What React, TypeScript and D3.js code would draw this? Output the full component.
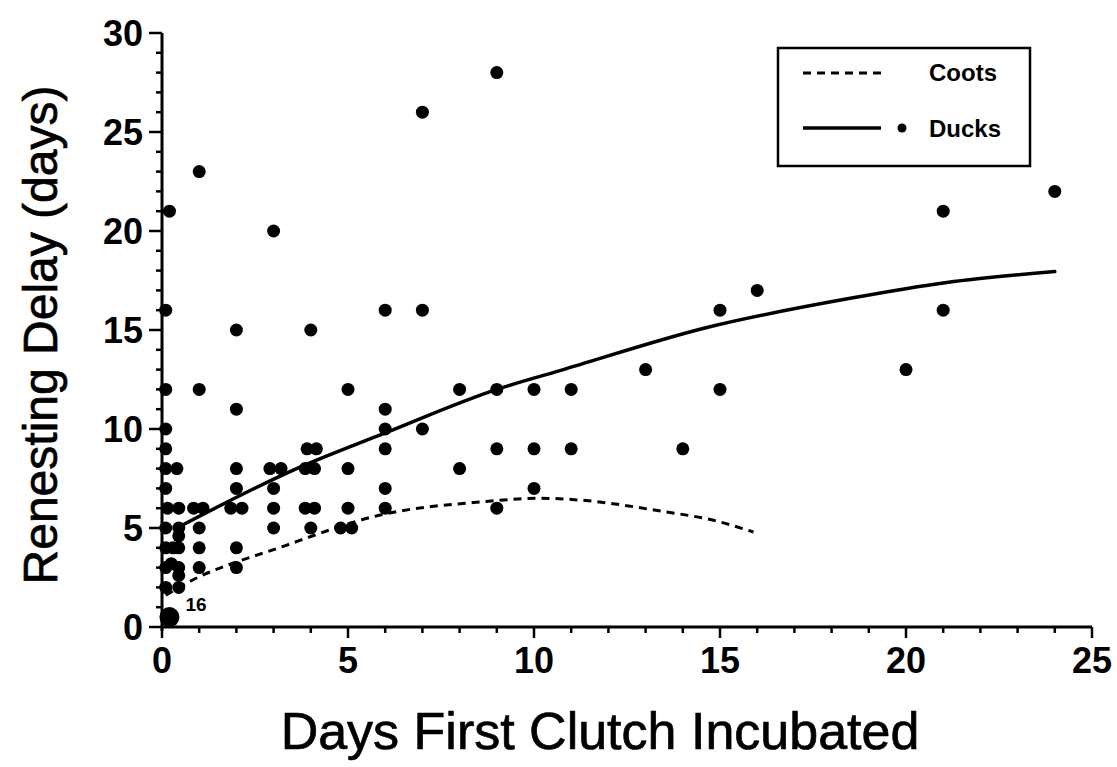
import React from "react";
import * as d3 from "d3";

// ---- Data ----
const xTicks = [0, 5, 10, 15, 20, 25];
const yTicks = [0, 5, 10, 15, 20, 25, 30];

// Duck observations: [days first clutch incubated, renesting delay]
const duckPoints: [number, number][] = [
  [24, 22], [21, 21], [21, 16], [20, 13], [16, 17], [15, 16], [15, 12], [13, 13], [14, 9],
  [11, 12], [11, 9], [10, 12], [10, 9], [10, 7], [9, 12], [9, 9], [9, 6], [9, 28],
  [8, 12], [8, 8], [7, 26], [7, 16], [7, 10],
  [6, 16], [6, 11], [6, 10], [6, 9], [6, 7], [6, 6],
  [5, 12], [5, 8], [5, 6], [4.8, 5], [5.1, 5],
  [4, 15], [3.9, 9], [4.15, 9], [3.85, 8], [4.1, 8], [3.85, 6], [4.1, 6], [4, 5],
  [3, 20], [2.9, 8], [3.2, 8], [3, 7], [3, 6], [3, 5],
  [2, 15], [2, 11], [2, 8], [2, 7], [1.85, 6], [2.15, 6], [2, 4], [2, 3],
  [1, 23], [1, 12], [1.1, 6], [0.85, 6], [1, 5], [1, 4], [1, 3],
  [0.2, 21], [0.1, 16], [0.1, 12], [0.1, 10], [0.1, 9], [0.1, 8], [0.4, 8], [0.1, 7],
  [0.15, 6], [0.45, 6], [0.1, 5], [0.45, 5], [0.45, 4.6], [0.1, 4], [0.3, 4], [0.45, 4],
  [0.1, 3], [0.25, 3.2], [0.45, 3], [0.45, 2.6], [0.1, 2], [0.45, 2],
];

// Stacked point at origin (16 observations)
const stackedPoint: [number, number] = [0.2, 0.5];
const stackedCount = "16";

// Fitted curves
const ducksCurveX = [0.5, 3.5, 6, 9, 10.7, 14.7, 18.5, 21.1, 24];
const ducksCurveY = [5.1, 7.9, 9.8, 12.0, 12.95, 15.15, 16.6, 17.4, 17.95];
const cootsCurveX = [0.1, 0.5, 3.3, 5.9, 8.6, 10.2, 11.3, 13.45, 14.8, 15.9];
const cootsCurveY = [1.6, 2.05, 4.1, 5.67, 6.32, 6.5, 6.4, 5.84, 5.4, 4.8];

const legendLabels = ["Coots", "Ducks"];
const xTitle = "Days First Clutch Incubated";
const yTitle = "Renesting Delay (days)";

// ---- Layout ----
const W = 1117;
const H = 767;
const X0 = 162;
const X1 = 1092;
const Y0 = 627;
const Y1 = 33;
const FONT = "'Liberation Sans', Arial, Helvetica, sans-serif";

export default function App() {
  const x = d3.scaleLinear().domain([0, 25]).range([X0, X1]);
  const y = d3.scaleLinear().domain([0, 30]).range([Y0, Y1]);

  const line = d3
    .line<[number, number]>()
    .x((d) => x(d[0]))
    .y((d) => y(d[1]))
    .curve(d3.curveMonotoneX);

  const ducksPath = line(ducksCurveX.map((v, i) => [v, ducksCurveY[i]]) as [number, number][]) || "";
  const cootsPath = line(cootsCurveX.map((v, i) => [v, cootsCurveY[i]]) as [number, number][]) || "";

  const xMinor = d3.range(0, 26, 1);
  const yMinor = d3.range(0, 31, 1);

  return (
    <svg width={W} height={H} style={{ position: "absolute", left: 0, top: 0, background: "#fff" }}>
      <rect x={0} y={0} width={W} height={H} fill="#fff" />

      {/* Axes */}
      <line x1={x(0)} x2={x(25)} y1={Y0} y2={Y0} stroke="#000" strokeWidth={3} />
      <line x1={X0} x2={X0} y1={y(0) + 4} y2={y(30)} stroke="#000" strokeWidth={3} />

      {xMinor.map((t) => (
        <line key={"xm" + t} x1={x(t)} x2={x(t)} y1={Y0} y2={Y0 + (t % 5 === 0 ? 11 : 6)} stroke="#000" strokeWidth={2.5} />
      ))}
      {yMinor.map((t) => (
        <line key={"ym" + t} x1={X0 - (t % 5 === 0 ? 13 : 6)} x2={X0} y1={y(t)} y2={y(t)} stroke="#000" strokeWidth={2.5} />
      ))}

      {xTicks.map((t) => (
        <text key={"xl" + t} x={x(t)} y={Y0 + 46} textAnchor="middle" fontFamily={FONT} fontWeight="bold" fontSize={36}>
          {t}
        </text>
      ))}
      {yTicks.map((t) => (
        <text key={"yl" + t} x={X0 - 19} y={y(t)} dy="0.35em" textAnchor="end" fontFamily={FONT} fontWeight="bold" fontSize={36}>
          {t}
        </text>
      ))}

      {/* Titles */}
      <text x={600} y={749} textAnchor="middle" fontFamily={FONT} fontSize={52} stroke="#000" strokeWidth={0.7}>
        {xTitle}
      </text>
      <text
        transform={`translate(57, ${(Y0 + Y1) / 2 + 5}) rotate(-90)`}
        textAnchor="middle"
        fontFamily={FONT}
        fontSize={48}
        stroke="#000"
        strokeWidth={0.7}
      >
        {yTitle}
      </text>

      {/* Curves */}
      <path d={cootsPath} fill="none" stroke="#000" strokeWidth={3} strokeDasharray="8 6" />
      <path d={ducksPath} fill="none" stroke="#000" strokeWidth={3.5} strokeLinecap="round" />

      {/* Points */}
      {duckPoints.map((p, i) => (
        <circle key={"p" + i} cx={x(p[0])} cy={y(p[1])} r={6.5} fill="#000" />
      ))}
      <circle cx={x(stackedPoint[0])} cy={y(stackedPoint[1])} r={10} fill="#000" />
      <text
        x={x(stackedPoint[0]) + 16}
        y={y(stackedPoint[1]) - 6}
        fontFamily={FONT}
        fontWeight="bold"
        fontSize={19}
      >
        {stackedCount}
      </text>

      {/* Legend */}
      <rect x={778} y={48} width={252} height={118} fill="#fff" stroke="#000" strokeWidth={2.5} />
      <line x1={803} x2={884} y1={73} y2={73} stroke="#000" strokeWidth={3} strokeDasharray="8 6" />
      <text x={929} y={73} dy="0.35em" fontFamily={FONT} fontWeight="bold" fontSize={24}>
        {legendLabels[0]}
      </text>
      <line x1={803} x2={881} y1={128} y2={128} stroke="#000" strokeWidth={3.5} />
      <circle cx={902} cy={128} r={4.5} fill="#000" />
      <text x={929} y={129} dy="0.35em" fontFamily={FONT} fontWeight="bold" fontSize={24}>
        {legendLabels[1]}
      </text>
    </svg>
  );
}
